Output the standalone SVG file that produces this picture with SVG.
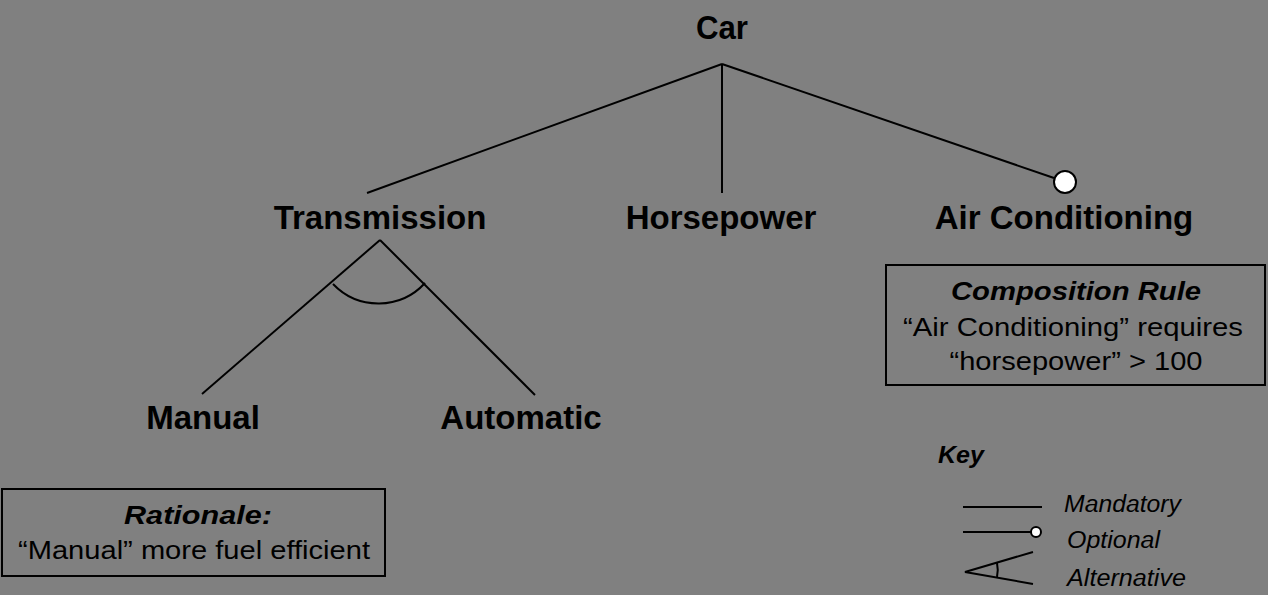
<svg xmlns="http://www.w3.org/2000/svg" width="1268" height="595" viewBox="0 0 1268 595">
<style>
.bg{fill:#808080}
.ln{stroke:#000;stroke-width:2;fill:none}
.opt{stroke:#000;stroke-width:2;fill:#fff}
.box{stroke:#000;stroke-width:2;fill:none}
.lbl{font-family:"Liberation Sans",Arial,sans-serif;font-weight:bold;font-size:33px;fill:#000;text-anchor:middle}
.bt{font-family:"Liberation Sans",Arial,sans-serif;font-size:26px;fill:#000;text-anchor:middle}
.bti{font-family:"Liberation Sans",Arial,sans-serif;font-size:26px;font-weight:bold;font-style:italic;fill:#000;text-anchor:middle}
.kt{font-family:"Liberation Sans",Arial,sans-serif;font-size:23px;font-style:italic;fill:#000}
.kh{font-family:"Liberation Sans",Arial,sans-serif;font-size:23px;font-weight:bold;font-style:italic;fill:#000}
</style>
<rect class="bg" x="0" y="0" width="1268" height="595"/>
<g id="connectors">
<line class="ln" x1="722" y1="64" x2="367" y2="193"/>
<line class="ln" x1="722" y1="64" x2="722" y2="193"/>
<line class="ln" x1="722" y1="64" x2="1054" y2="178"/>
<circle class="opt" cx="1065" cy="182" r="11"/>
<line class="ln" x1="380" y1="240" x2="202" y2="394"/>
<line class="ln" x1="380" y1="240" x2="535" y2="395"/>
<path class="ln" d="M333,284 A63,63 0 0 0 425,283"/>
</g>
<g id="car"><text class="lbl" x="722" y="39" font-size="28" textLength="52" lengthAdjust="spacingAndGlyphs">Car</text></g>
<g id="transmission"><text class="lbl" x="380" y="229">Transmission</text></g>
<g id="horsepower"><text class="lbl" x="721" y="229">Horsepower</text></g>
<g id="air-conditioning"><text class="lbl" x="1064" y="229">Air Conditioning</text></g>
<g id="manual"><text class="lbl" x="203" y="429">Manual</text></g>
<g id="automatic"><text class="lbl" x="521" y="429">Automatic</text></g>
<g id="composition-rule">
<rect class="box" x="886" y="265" width="379" height="120"/>
<text class="bti" x="1076" y="300" textLength="250" lengthAdjust="spacingAndGlyphs">Composition Rule</text>
<text class="bt" x="1073" y="336" textLength="340" lengthAdjust="spacingAndGlyphs">“Air Conditioning” requires</text>
<text class="bt" x="1076" y="370" textLength="253" lengthAdjust="spacingAndGlyphs">“horsepower” &gt; 100</text>
</g>
<g id="rationale">
<rect class="box" x="2" y="489" width="383" height="87"/>
<text class="bti" x="198" y="524" textLength="148" lengthAdjust="spacingAndGlyphs">Rationale:</text>
<text class="bt" x="194" y="559" textLength="352" lengthAdjust="spacingAndGlyphs">“Manual” more fuel efficient</text>
</g>
<g id="key">
<text class="kh" x="938" y="463" textLength="46" lengthAdjust="spacingAndGlyphs">Key</text>
<line class="ln" x1="963" y1="507" x2="1042" y2="507"/>
<text class="kt" x="1064" y="512" textLength="117" lengthAdjust="spacingAndGlyphs">Mandatory</text>
<line class="ln" x1="963" y1="532" x2="1031" y2="532"/>
<circle class="opt" cx="1036" cy="532" r="5"/>
<text class="kt" x="1067" y="548" textLength="93" lengthAdjust="spacingAndGlyphs">Optional</text>
<polyline class="ln" points="1033,552 965,572 1033,584"/>
<path class="ln" d="M997,563 A33,33 0 0 1 997,577"/>
<text class="kt" x="1067" y="586" textLength="119" lengthAdjust="spacingAndGlyphs">Alternative</text>
</g>
</svg>
